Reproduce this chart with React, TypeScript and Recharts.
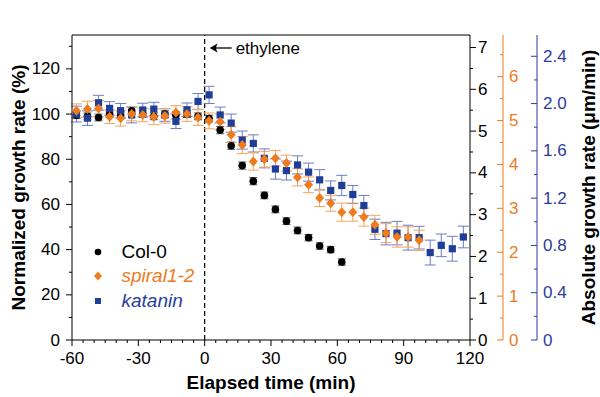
import React from "react";
import { ComposedChart, Scatter, XAxis, YAxis, ErrorBar, ReferenceLine, Legend } from "recharts";

// ---------------- data ----------------
const times = [
  -58, -53, -48, -43, -38, -33, -28, -23, -18, -13, -8, -3, 2, 7, 12, 17, 22, 27,
  32, 37, 42, 47, 52, 57, 62, 67, 72, 77, 82, 87, 92, 97, 102, 107, 112, 117,
];

const col0Values = [
  99.5, 99, 98.5, 100, 99.5, 101.5, 100, 99, 100, 99.5, 100, 99, 98, 92.9, 86, 77.2,
  70.3, 64, 57.8, 52.6, 48.5, 45.3, 41.6, 40, 34.5,
];
const col0Errors = [
  1.5, 1.5, 1.5, 1.5, 1.5, 1.5, 1.5, 1.5, 1.5, 1.5, 1.5, 1.5, 1.5, 1.6, 1.6, 1.6,
  1.6, 1.5, 1.5, 1.5, 1.5, 1.4, 1.4, 1.4, 1.4,
];

const spiralValues = [
  101.5, 102.2, 102.5, 98.8, 98.2, 100, 99.6, 98.8, 99.2, 100.7, 100, 98.5, 97, 96.6,
  90.9, 86.3, 79, 80, 80.4, 78.3, 72, 68.7, 62.9, 60.5, 56.6, 56.6, 54.4, 51, 47.3,
  45.6, 45.6, 44.1,
];
const spiralErrors = [
  3.0, 3.5, 3.5, 3.0, 3.5, 3.0, 3.0, 3.5, 3.2, 3.0, 3.2, 3.5, 3.5, 3.5, 3.5, 3.8,
  3.8, 3.5, 3.5, 3.5, 3.8, 3.5, 3.8, 3.5, 4.0, 4.0, 4.0, 4.2, 4.2, 4.5, 4.5, 4.5,
];

const kataninValues = [
  100, 98.2, 105, 102.5, 101.5, 99.6, 101.8, 102.2, 99.6, 96.8, 101.9, 105.6, 108.5,
  99.6, 96, 88.5, 87, 80.4, 75.7, 75, 77.5, 74.3, 70.9, 66.2, 68.4, 64.4, 59.5, 49,
  47.1, 47.3, 45.3, 45.3, 38.7, 41.9, 40.4, 45.6,
];
const kataninErrors = [
  3.5, 3.2, 3.3, 3.0, 3.2, 3.5, 3.0, 3.0, 2.8, 3.2, 3.0, 3.5, 3.8, 3.5, 4.0, 4.0,
  3.8, 4.2, 4.5, 4.2, 4.0, 4.0, 4.5, 4.2, 4.5, 4.0, 4.5, 4.5, 5.0, 5.2, 5.5, 5.0,
  5.5, 5.0, 5.5, 4.8,
];

const xTicks = [
  -60, -55, -50, -45, -40, -35, -30, -25, -20, -15, -10, -5, 0, 5, 10, 15, 20, 25, 30,
  35, 40, 45, 50, 55, 60, 65, 70, 75, 80, 85, 90, 95, 100, 105, 110, 115, 120,
];
const xMajor = [-60, -30, 0, 30, 60, 90, 120];
const leftTicks = [0, 10, 20, 30, 40, 50, 60, 70, 80, 90, 100, 110, 120, 130];
const leftMajor = [0, 20, 40, 60, 80, 100, 120];
const blackTicks = [0, 0.5, 1, 1.5, 2, 2.5, 3, 3.5, 4, 4.5, 5, 5.5, 6, 6.5, 7];
const blackMajor = [0, 1, 2, 3, 4, 5, 6, 7];
const orangeTicks = [0, 0.5, 1, 1.5, 2, 2.5, 3, 3.5, 4, 4.5, 5, 5.5, 6, 6.5];
const orangeMajor = [0, 1, 2, 3, 4, 5, 6];
const blueTicks = [0, 0.2, 0.4, 0.6, 0.8, 1.0, 1.2, 1.4, 1.6, 1.8, 2.0, 2.2, 2.4];
const blueMajor = [0, 0.4, 0.8, 1.2, 1.6, 2.0, 2.4];

const col0Data = col0Values.map((v, i) => ({ t: times[i], v, e: col0Errors[i] }));
const spiralData = spiralValues.map((v, i) => ({ t: times[i], v, e: spiralErrors[i] }));
const kataninData = kataninValues.map((v, i) => ({ t: times[i], v, e: kataninErrors[i] }));

// ---------------- style ----------------
const FONT = "'Liberation Sans', Arial, Helvetica, sans-serif";
const ORANGE = "#EE7B1E";
const ORANGE_BAR = "#F4A35C";
const BLUE = "#1F3E9A";
const BLUE_BAR = "#6F7CC2";
const BLUE_AXIS = "#2B3C9A";
const TICK_FS = 17;
const TITLE_FS = 19;

const isMajor = (list: number[], v: number) => list.some((m) => Math.abs(m - v) < 1e-6);

const XTick = (props: any) => {
  const { x, y, payload } = props;
  const v = payload.value;
  const major = isMajor(xMajor, v);
  return (
    <g>
      <line x1={x} x2={x} y1={y} y2={y + (major ? 6 : 3)} stroke="#000" strokeWidth={1} />
      {major && (
        <text x={x} y={y + 18} textAnchor="middle" dominantBaseline="central" fontSize={TICK_FS} fontFamily={FONT} fill="#000">
          {v}
        </text>
      )}
    </g>
  );
};

const LeftTick = (props: any) => {
  const { x, y, payload } = props;
  const v = payload.value;
  const major = isMajor(leftMajor, v);
  return (
    <g>
      <line x1={x - (major ? 6 : 3)} x2={x} y1={y} y2={y} stroke="#000" strokeWidth={1} />
      {major && (
        <text x={x - 12} y={y} textAnchor="end" dominantBaseline="central" fontSize={TICK_FS} fontFamily={FONT} fill="#000">
          {v}
        </text>
      )}
    </g>
  );
};

const makeRightTick = (majors: number[], color: string, inward: boolean, gap: number, fmt: (v: number) => string) =>
  (props: any) => {
    const { x, y, payload } = props;
    const v = payload.value;
    const major = isMajor(majors, v);
    const len = major ? 6 : 3;
    return (
      <g>
        <line x1={inward ? x - len : x} x2={inward ? x : x + len} y1={y} y2={y} stroke={color} strokeWidth={1} />
        {major && (
          <text x={x + gap} y={y} textAnchor="start" dominantBaseline="central" fontSize={TICK_FS} fontFamily={FONT} fill={color}>
            {fmt(v)}
          </text>
        )}
      </g>
    );
  };

const BlackTick = makeRightTick(blackMajor, "#000", false, 8, (v) => String(v));
const OrangeTick = makeRightTick(orangeMajor, ORANGE, true, 6, (v) => String(v));
const BlueTick = makeRightTick(blueMajor, BLUE_AXIS, true, 6, (v) => (v === 0 ? "0" : v.toFixed(1)));

const LeftTitle = (props: any) => {
  const vb = props.viewBox || { x: 0, y: 35, width: 72, height: 305 };
  const cx = vb.x + 18;
  const cy = vb.y + vb.height / 2;
  return (
    <text x={cx} y={cy} transform={`rotate(-90 ${cx} ${cy})`} textAnchor="middle" dominantBaseline="central" fontSize={TITLE_FS} fontWeight="bold" fontFamily={FONT} fill="#000">
      Normalized growth rate (%)
    </text>
  );
};

const RightTitle = (props: any) => {
  const vb = props.viewBox || { x: 537, y: 35, width: 63, height: 305 };
  const cx = vb.x + 51;
  const cy = vb.y + vb.height / 2;
  return (
    <text x={cx} y={cy} transform={`rotate(-90 ${cx} ${cy})`} textAnchor="middle" dominantBaseline="central" fontSize={TITLE_FS} fontWeight="bold" fontFamily={FONT} fill="#000">
      Absolute growth rate (μm/min)
    </text>
  );
};

const XTitle = (props: any) => {
  const vb = props.viewBox || { x: 72, y: 340, width: 398, height: 57 };
  const cx = vb.x + vb.width / 2;
  const cy = vb.y + 42;
  return (
    <text x={cx} y={cy} textAnchor="middle" dominantBaseline="central" fontSize={TITLE_FS} fontWeight="bold" fontFamily={FONT} fill="#000">
      Elapsed time (min)
    </text>
  );
};

const EthyleneLabel = (props: any) => {
  const vb = props.viewBox || { x: 205, y: 35 };
  const x0 = vb.x;
  const y0 = vb.y + 13;
  return (
    <g>
      <line x1={x0 + 7} x2={x0 + 27} y1={y0} y2={y0} stroke="#000" strokeWidth={1.3} />
      <path d={`M ${x0 + 5} ${y0} L ${x0 + 13} ${y0 - 4.5} L ${x0 + 11} ${y0} L ${x0 + 13} ${y0 + 4.5} Z`} fill="#000" />
      <text x={x0 + 31} y={y0} textAnchor="start" dominantBaseline="central" fontSize={TICK_FS} fontFamily={FONT} fill="#000">
        ethylene
      </text>
    </g>
  );
};

const circleShape = (p: any) => <circle cx={p.cx} cy={p.cy} r={3.8} fill="#000" />;
const diamondShape = (p: any) => (
  <path d={`M ${p.cx} ${p.cy - 5} L ${p.cx + 4.5} ${p.cy} L ${p.cx} ${p.cy + 5} L ${p.cx - 4.5} ${p.cy} Z`} fill={ORANGE} />
);
const squareShape = (p: any) => <rect x={p.cx - 3.6} y={p.cy - 3.6} width={7.2} height={7.2} fill={BLUE} />;

const legendItems = [
  { name: "Col-0", color: "#000", italic: false, kind: "circle" },
  { name: "spiral1-2", color: ORANGE, italic: true, kind: "diamond" },
  { name: "katanin", color: BLUE, italic: true, kind: "square" },
];

const LegendContent = () => (
  <div style={{ fontFamily: FONT }}>
    {legendItems.map((it) => (
      <div key={it.name} style={{ display: "flex", alignItems: "center", height: 24.5 }}>
        <svg width={16} height={16} style={{ display: "block" }}>
          {it.kind === "circle" && <circle cx={8} cy={8} r={3.3} fill={it.color} />}
          {it.kind === "diamond" && <path d="M 8 3.5 L 12 8 L 8 12.5 L 4 8 Z" fill={it.color} />}
          {it.kind === "square" && <rect x={5} y={5} width={6} height={6} fill={it.color} />}
        </svg>
        <span style={{ marginLeft: 16, fontSize: 19, lineHeight: "24px", color: it.color, fontStyle: it.italic ? "italic" : "normal" }}>
          {it.name}
        </span>
      </div>
    ))}
  </div>
);

export default function App() {
  return (
    <div style={{ position: "absolute", left: 0, top: 0, width: 600, height: 397, background: "#fff" }}>
      <ComposedChart width={600} height={397} margin={{ top: 35, right: 0, bottom: 0, left: 0 }}>
        <XAxis
          dataKey="t"
          type="number"
          domain={[-60, 120]}
          ticks={xTicks}
          interval={0}
          allowDataOverflow
          tick={<XTick />}
          tickLine={false}
          tickSize={0}
          tickMargin={0}
          height={57}
          axisLine={{ stroke: "#000", strokeWidth: 1 }}
          label={XTitle}
        />
        <YAxis
          yAxisId="left"
          orientation="left"
          type="number"
          domain={[0, 135]}
          ticks={leftTicks}
          interval={0}
          allowDataOverflow
          tick={<LeftTick />}
          tickLine={false}
          tickSize={0}
          tickMargin={0}
          width={72}
          axisLine={{ stroke: "#000", strokeWidth: 1 }}
          label={LeftTitle}
        />
        <YAxis
          yAxisId="r1"
          orientation="right"
          type="number"
          domain={[0, 7.3]}
          ticks={blackTicks}
          interval={0}
          allowDataOverflow
          tick={<BlackTick />}
          tickLine={false}
          tickSize={0}
          tickMargin={0}
          width={33}
          axisLine={{ stroke: "#000", strokeWidth: 1 }}
        />
        <YAxis
          yAxisId="r2"
          orientation="right"
          type="number"
          domain={[0, 6.95]}
          ticks={orangeTicks}
          interval={0}
          allowDataOverflow
          tick={<OrangeTick />}
          tickLine={false}
          tickSize={0}
          tickMargin={0}
          width={34}
          axisLine={{ stroke: ORANGE, strokeWidth: 1 }}
        />
        <YAxis
          yAxisId="r3"
          orientation="right"
          type="number"
          domain={[0, 2.58]}
          ticks={blueTicks}
          interval={0}
          allowDataOverflow
          tick={<BlueTick />}
          tickLine={false}
          tickSize={0}
          tickMargin={0}
          width={63}
          axisLine={{ stroke: BLUE_AXIS, strokeWidth: 1 }}
          label={RightTitle}
        />
        <ReferenceLine yAxisId="left" y={135} stroke="#000" strokeWidth={1} ifOverflow="visible" />
        <ReferenceLine yAxisId="left" x={0} stroke="#000" strokeWidth={1.2} strokeDasharray="5 3" label={EthyleneLabel} />
        <Scatter name="Col-0" yAxisId="left" data={col0Data} dataKey="v" shape={circleShape} isAnimationActive={false}>
          <ErrorBar dataKey="e" direction="y" width={4} stroke="#555" strokeWidth={1} />
        </Scatter>
        <Scatter name="katanin" yAxisId="left" data={kataninData} dataKey="v" shape={squareShape} isAnimationActive={false}>
          <ErrorBar dataKey="e" direction="y" width={5.5} stroke={BLUE_BAR} strokeWidth={1} />
        </Scatter>
        <Scatter name="spiral1-2" yAxisId="left" data={spiralData} dataKey="v" shape={diamondShape} isAnimationActive={false}>
          <ErrorBar dataKey="e" direction="y" width={5.5} stroke={ORANGE_BAR} strokeWidth={1} />
        </Scatter>
        <Legend
          layout="vertical"
          align="center"
          verticalAlign="middle"
          content={<LegendContent />}
          wrapperStyle={{ left: 89.5, top: 239.5, width: 130, height: 75 }}
        />
      </ComposedChart>
    </div>
  );
}
